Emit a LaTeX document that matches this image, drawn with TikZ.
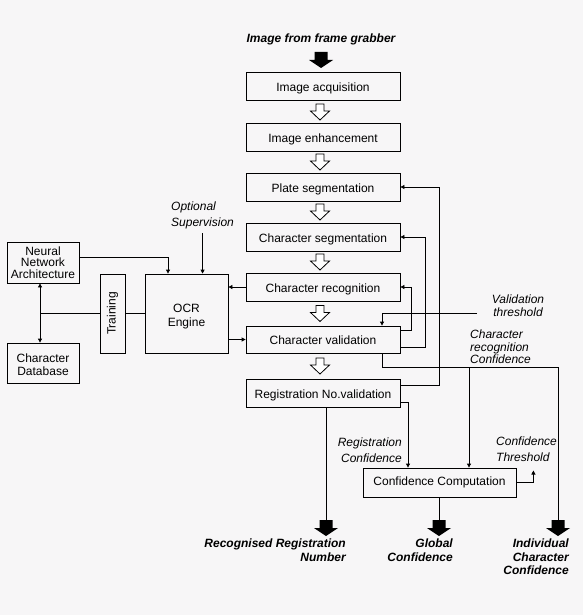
\documentclass[tikz,border=0pt]{standalone}
\usepackage{fontspec}
\setmainfont{Liberation Sans}
\usetikzlibrary{arrows.meta,calc}
\definecolor{bg}{RGB}{247,246,247}
\begin{document}
\begin{tikzpicture}[x=1pt,y=-1pt,
  every node/.style={font=\fontsize{12}{13.5}\selectfont},
  box/.style={draw,line width=0.8pt,inner sep=0pt,align=center},
  mainbox/.style={box,minimum width=154pt,minimum height=28pt,text height=10.5pt,text depth=0pt},
  lab/.style={inner sep=0pt,font=\fontsize{12}{13.5}\selectfont\itshape},
  blab/.style={inner sep=0pt,font=\fontsize{12}{13.5}\selectfont\bfseries\itshape},
  ln/.style={line width=0.8pt},
  arr/.style={ln,-{Triangle[length=4pt,width=4pt]}},
  harrow/.pic={\draw[fill=white,line width=0.8pt] (-4,-8)--(4,-8)--(4,-1)--(9.5,-1)--(0,8)--(-9.5,-1)--(-4,-1)--cycle;},
  barrow/.pic={\fill[black] (-6.5,-8)--(6.5,-8)--(6.5,0)--(12,0)--(0,8)--(-12,0)--(-6.5,0)--cycle;}]
\fill[bg] (0,0) rectangle (583,615);
\useasboundingbox (0,0) rectangle (583,615);

% main column
\node[blab] (src) at (321,39) {Image from frame grabber};
\pic at (321,60) {barrow};
\node[mainbox] (ia) at (323,86) {Image acquisition};
\node[mainbox] (ie) at (323,137) {Image enhancement};
\node[mainbox] (ps) at (323,187) {Plate segmentation};
\node[mainbox] (cs) at (323,237) {Character segmentation};
\node[mainbox] (cr) at (323,287) {Character recognition};
\node[mainbox,minimum height=27pt] (cv) at (323,339.5) {Character validation};
\node[mainbox] (rv) at (323,393) {Registration No.validation};
\foreach \y in {112,162,212,262,313.5,366} \pic at (320,\y) {harrow};

% left side
\node[box,minimum width=72pt,minimum height=41pt,font=\fontsize{12}{11.7}\selectfont] (nn) at (43,262.5) {Neural\\Network\\Architecture};
\node[box,minimum width=25pt,minimum height=79pt] (tr) at (112.5,313.5) {};
\node[rotate=90,inner sep=0pt] (trt) at (tr.center) {Training};
\node[box,minimum width=83pt,minimum height=79pt] (ocr) at (186.5,313.5) {};
\node[inner sep=0pt,align=center,font=\fontsize{12}{14}\selectfont] (ocrt) at (186.5,316.5) {OCR\\Engine};
\node[box,minimum width=72pt,minimum height=40pt] (db) at (43,363) {};
\node[inner sep=0pt,align=center,font=\fontsize{12}{13.5}\selectfont] (dbt) at (43,364.5) {Character\\Database};
\node[lab,anchor=west,align=left,font=\fontsize{12}{16}\selectfont\itshape] (os) at (171,215.5) {Optional\\Supervision};

\draw[arr] ([yshift=5.5pt]nn.east) -| ([xshift=-18.5pt]ocr.north);
\draw[arr] ([yshift=-4pt]os.south) -- (os.south |- ocr.north);
\draw[ln,{Triangle[length=4pt,width=4pt]}-{Triangle[length=4pt,width=4pt]}] ([xshift=-3pt]nn.south) -- ([xshift=-3pt]db.north);
\draw[ln] ([xshift=-3pt]nn.south |- tr.west) -- (tr.west);
\draw[ln] (tr.east) -- (ocr.west);
\draw[arr] (cr.west) -- (cr.west -| ocr.east);
\draw[arr] (ocr.east |- cv.west) -- (cv.west);

% feedback
\draw[arr] ([yshift=8pt]rv.east) -- ++(39,0) |- (ps.east);
\draw[arr] ([yshift=-7.5pt]cv.east) -- ++(25,0) |- (cs.east);
\draw[arr] ([yshift=9.5pt]cv.east) -- ++(11,0) |- (cr.east);

\node[lab,align=center] (vt) at (518,305.5) {Validation\\threshold};
\coordinate (vts) at (477,313);
\draw[arr] (vts) -| ([xshift=59pt]cv.north);

\node[lab,anchor=west,align=left,font=\fontsize{12}{12.5}\selectfont\itshape] (crc) at (470,347) {Character\\recognition\\Confidence};

% confidence computation
\node[box,minimum width=153pt,minimum height=29pt] (cc) at (439.5,482.5) {Confidence Computation};
\coordinate (j1) at (469,367);
\coordinate (o1) at (326,520);
\coordinate (o2) at (439,520);
\coordinate (o3) at (558,520);
\draw[ln] ([xshift=59pt]cv.south) |- (o3 |- j1) -- (o3);
\draw[arr] (j1) -- (j1 |- cc.north);
\draw[arr] ([yshift=-9pt]rv.east) -| ([xshift=-31.5pt]cc.north);
\node[lab,anchor=east,align=right,font=\fontsize{12}{16}\selectfont\itshape] (rc) at (402,450) {Registration\\Confidence};
\draw[arr] (cc.east) -- ++(17,0) -- ++(0,-12);
\node[lab,anchor=west,align=left,font=\fontsize{12}{16}\selectfont\itshape] (ct) at (496,449) {Confidence\\Threshold};

% outputs
\draw[ln] ([xshift=3pt]rv.south) -- (o1);
\draw[ln] (cc.south -| o2) -- (o2);
\pic at (326,528) {barrow};
\pic at (439,528) {barrow};
\pic at (558,528) {barrow};
\node[blab,anchor=north east,align=right] (l1) at (346,539) {Recognised Registration\\Number};
\node[blab,anchor=north east,align=right] (l2) at (453,539) {Global\\Confidence};
\node[blab,anchor=north east,align=right] (l3) at (569,539) {Individual\\Character\\Confidence};
\end{tikzpicture}
\end{document}
